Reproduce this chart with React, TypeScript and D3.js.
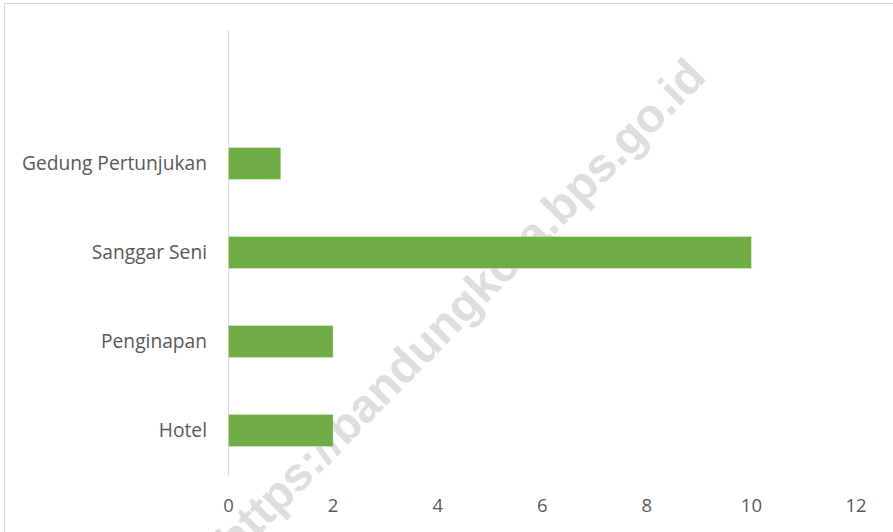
import React from "react";
import * as d3 from "d3";

const categories = ["", "Gedung Pertunjukan", "Sanggar Seni", "Penginapan", "Hotel"];
const values = [0, 1, 10, 2, 2];
const xTicks = [0, 2, 4, 6, 8, 10, 12];
const watermark = "https://bandungkota.bps.go.id";

const W = 893;
const H = 532;

export default function App() {
  React.useEffect(() => {
    document.body.style.margin = "0";
  }, []);

  const x = d3.scaleLinear().domain([0, 12]).range([228.5, 856]);
  const y = d3
    .scaleBand<string>()
    .domain(categories.map((c, i) => String(i)))
    .range([30, 475])
    .paddingInner(0.64)
    .paddingOuter(0.32);

  const font = "'Open Sans', 'Noto Sans', sans-serif";
  const textColor = "#595959";

  return (
    <svg width={W} height={H} style={{ display: "block" }}>
      <rect x={0} y={0} width={W} height={H} fill="#fff" />
      <rect x={4.5} y={3.5} width={W + 20} height={H + 20} fill="none" stroke="#d9d9d9" strokeWidth={1} />
      {/* watermark */}
      <text
        transform={`translate(460,307) rotate(-45.5)`}
        textAnchor="middle"
        dy="0.35em"
        fontFamily="'Liberation Sans', Arial, sans-serif"
        fontWeight="bold"
        fontSize={47}
        fill="#dedede"
      >
        {watermark}
      </text>
      {/* axis line */}
      <line x1={x(0)} x2={x(0)} y1={30} y2={475} stroke="#d9d9d9" strokeWidth={1} />
      {/* bars */}
      {values.map((v, i) =>
        v > 0 ? (
          <rect
            key={i}
            x={x(0)}
            y={y(String(i))!}
            width={x(v) - x(0)}
            height={y.bandwidth()}
            fill="#70ad47"
            stroke="#ffffff"
            strokeOpacity={0.4}
            strokeWidth={0.75}
          />
        ) : null
      )}
      {/* category labels */}
      {categories.map((c, i) => (
        <text
          key={i}
          x={207}
          y={y(String(i))! + y.bandwidth() / 2}
          dy="0.36em"
          textAnchor="end"
          fontFamily={font}
          fontSize={19.2}
          fill={textColor}
        >
          {c}
        </text>
      ))}
      {/* x tick labels */}
      {xTicks.map((t) => (
        <text
          key={t}
          x={x(t)}
          y={512}
          textAnchor="middle"
          fontFamily={font}
          fontSize={18.5}
          fill={textColor}
        >
          {t}
        </text>
      ))}
    </svg>
  );
}
